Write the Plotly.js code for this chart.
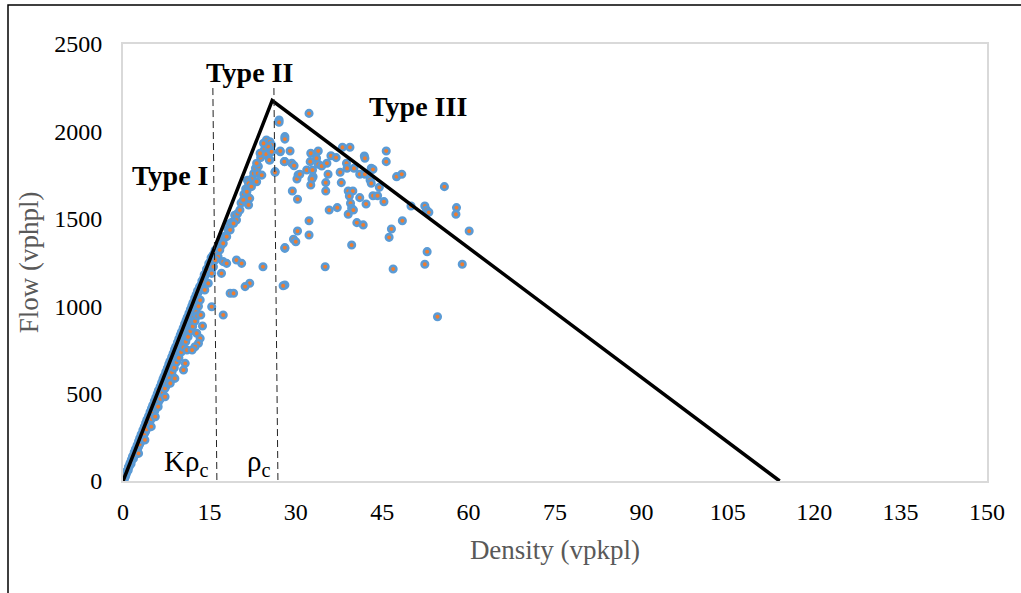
<!DOCTYPE html>
<html>
<head>
<meta charset="utf-8">
<script src="https://cdn.plot.ly/plotly-3.0.1.min.js"></script>
<style>
html,body{margin:0;padding:0;background:#fff;}
#chart{width:1021px;height:593px;}
</style>
</head>
<body>
<div id="chart"></div>
<script>
// Observed density (vpkpl) and flow (vphpl)
const densityObs = [
  0.0,0.1,0.2,0.3,0.5,0.6,0.8,1.0,1.1,1.3,1.5,1.7,1.9,2.0,2.2,2.4,2.6,2.8,3.0,3.2,3.4,3.6,3.8,4.0,4.2,4.4,4.6,4.8,5.0,5.2,5.4,5.6,5.8,6.0,6.2,6.4,6.6,6.8,7.0,7.2,7.4,7.6,7.8,8.0,8.2,8.4,8.6,8.8,9.0,9.2,9.4,9.6,9.8,10.0,10.2,10.4,10.6,10.8,11.0,11.2,11.4,11.6,11.8,12.0,12.2,12.4,12.6,12.8,13.0,13.2,13.4,13.6,13.8,14.0,14.2,14.4,14.6,14.8,15.0,15.2,15.4,15.6,15.8,16.0,
  0.4,0.9,1.4,1.8,2.3,2.7,3.1,3.5,3.9,4.3,4.7,5.1,5.5,5.9,6.3,6.7,7.1,7.5,7.9,8.3,8.7,9.1,9.5,9.9,10.3,10.7,11.1,11.5,11.9,12.3,12.7,13.1,
  0.15,0.45,0.7,0.95,1.2,1.45,1.65,1.95,2.15,2.45,2.7,2.9,3.15,3.45,3.7,3.95,4.15,4.45,4.7,4.95,5.15,5.45,5.7,5.95,6.15,6.45,6.7,6.95,7.15,7.45,7.7,7.95,8.15,8.45,8.7,8.95,9.15,9.45,9.7,9.95,10.15,10.45,10.7,10.95,11.15,11.45,11.7,11.95,12.15,12.45,12.7,12.95,13.3,13.7,14.1,14.5,14.9,15.3,
  2.1,2.5,2.9,3.3,3.7,4.1,4.5,4.9,5.3,5.7,6.1,6.5,6.9,7.3,7.7,8.1,8.5,8.9,9.3,9.7,10.1,10.5,10.9,11.3,11.7,12.1,12.5,12.9,
  16.2,16.6,17.0,17.3,17.7,18.2,18.5,18.9,19.4,19.9,20.5,21.0,21.3,21.9,22.4,22.7,23.0,23.5,23.9,24.2,24.6,25.0,24.8,23.4,21.6,
  15.4,17.4,13.5,13.8,12.8,13.4,13.1,12.5,11.1,12.0,10.8,10.5,9.0,8.2,7.3,6.1,5.6,4.9,3.8,2.7,
  27.0,24.9,25.5,25.8,25.2,24.4,23.8,25.8,27.3,28.1,25.5,28.1,26.4,23.2,24.1,23.2,21.8,22.3,21.5,22.0,21.8,20.9,20.3,19.7,19.2,18.6,18.0,17.4,16.8,16.5,16.0,15.7,15.4,14.8,14.2,13.4,
  17.4,18.0,17.1,19.7,20.6,24.3,28.1,22.0,21.2,18.6,19.2,28.1,
  32.3,27.1,27.1,28.1,29.0,27.3,28.0,25.4,29.3,29.7,26.4,
  32.6,33.9,33.6,32.5,33.9,34.5,35.4,36.1,37.0,38.1,39.4,
  31.9,32.9,33.0,32.8,30.4,30.2,30.7,32.6,35.6,35.2,35.2,29.4,30.3,
  37.7,37.9,38.8,38.9,40.1,39.1,39.9,39.3,41.1,42.0,42.9,43.1,41.9,42.0,43.1,43.4,41.1,42.2,
  39.5,39.7,40.0,39.1,40.6,41.7,37.2,35.8,43.4,44.2,44.5,45.3,45.7,45.7,47.5,48.4,
  50.0,52.4,52.7,53.1,55.8,57.9,57.8,60.1,48.5,46.6,46.2,52.8,52.4,58.9,46.9,54.6,
  32.3,32.3,30.3,29.6,30.0,28.1,35.1,39.7,27.8
];
const flowObs = [
  0,3,10,20,35,45,60,80,85,105,118,135,150,162,175,192,205,228,240,262,270,290,305,330,340,360,372,395,410,420,445,455,478,490,512,520,545,556,580,590,612,625,645,660,676,690,712,725,748,760,778,795,812,826,845,860,878,890,912,925,945,960,978,992,1010,1025,1042,1058,1075,1090,1110,1125,1142,1160,1172,1190,1205,1225,1240,1258,1270,1290,1300,1320,
  25,62,98,128,165,196,225,255,282,318,345,378,400,438,462,498,528,545,590,612,648,676,705,745,770,805,840,870,905,935,968,1000,
  12,38,58,80,100,122,140,165,182,205,226,245,266,290,310,332,350,372,395,415,432,458,478,500,518,540,562,584,600,625,645,668,685,708,730,752,768,792,814,836,852,876,898,918,935,960,982,1002,1020,1045,1066,1088,1112,1145,1180,1212,1245,1278,
  150,178,210,238,270,296,330,355,390,415,448,470,505,530,560,588,622,648,680,705,738,765,798,825,858,885,915,945,
  1300,1330,1345,1385,1400,1440,1470,1480,1520,1530,1590,1640,1670,1690,1730,1760,1790,1800,1850,1880,1900,1930,1870,1760,1720,
  997,950,950,887,845,816,788,768,749,749,673,635,587,559,482,425,368,311,235,158,
  2056,1951,1941,1922,1913,1932,1875,1884,1884,1970,1836,1827,1770,1818,1750,1712,1703,1684,1655,1617,1579,1608,1550,1493,1474,1436,1398,1360,1322,1283,1264,1226,1188,1131,1093,1035,
  1255,1245,1188,1264,1245,1226,1331,1131,1112,1074,1074,1121,
  2103,2065,2052,1956,1888,1888,1827,1836,1818,1804,1766,
  1875,1888,1846,1827,1812,1802,1818,1861,1850,1909,1909,
  1779,1779,1741,1728,1751,1728,1755,1693,1755,1707,1659,1659,1612,
  1766,1707,1818,1789,1789,1659,1659,1630,1755,1755,1722,1703,1859,1846,1789,1783,1621,1585,
  1589,1560,1550,1526,1478,1465,1564,1550,1632,1632,1680,1598,1888,1827,1741,1755,
  1573,1573,1550,1537,1684,1564,1526,1430,1489,1442,1394,1312,1240,1240,1213,940,
  1489,1407,1430,1383,1369,1335,1226,1350,1117
];
// Triangular fundamental diagram
const fdDensity = [0, 25.9, 114.0];
const fdFlow = [0, 2176, 0];
// Dashed guide lines (K*rho_c and rho_c)
const kRhoX = [15.6, 16.3];
const rhoCX = [26.2, 26.9];
const guideY = [2248, 0];
// Axis ticks
const xTicks = [0,15,30,45,60,75,90,105,120,135,150];
const yTicks = [0,500,1000,1500,2000,2500];

const serif = '"Liberation Serif","Times New Roman",serif';

const traces = [
  {
    x: densityObs, y: flowObs, type: 'scatter', mode: 'markers',
    marker: {size: 6.5, color: '#ED7D31', line: {color: '#5B9BD5', width: 2.6}},
    hoverinfo: 'x+y', showlegend: false
  },
  {
    x: fdDensity, y: fdFlow, type: 'scatter', mode: 'lines',
    line: {color: '#000000', width: 3.5}, showlegend: false
  },
  {
    x: kRhoX, y: guideY, type: 'scatter', mode: 'lines',
    line: {color: '#222222', width: 1, dash: '7px,4px'}, showlegend: false
  },
  {
    x: rhoCX, y: guideY, type: 'scatter', mode: 'lines',
    line: {color: '#222222', width: 1, dash: '7px,4px'}, showlegend: false
  }
];

const layout = {
  width: 1021, height: 593,
  margin: {l: 123, r: 34, t: 44, b: 112},
  paper_bgcolor: '#ffffff', plot_bgcolor: '#ffffff',
  font: {family: serif, color: '#000000', size: 24},
  showlegend: false,
  xaxis: {
    range: [0, 150], tickvals: xTicks, ticktext: xTicks.map(String),
    showgrid: false, zeroline: false,
    showline: true, linecolor: '#D9D9D9', linewidth: 2, mirror: true,
    ticks: '', ticklen: 0, ticklabelstandoff: 8,
    tickfont: {family: serif, size: 24, color: '#000'},
    title: {text: 'Density (vpkpl)', font: {family: serif, size: 27, color: '#595959'}, standoff: 16}
  },
  yaxis: {
    range: [0, 2500], tickvals: yTicks, ticktext: yTicks.map(String),
    showgrid: false, zeroline: false,
    showline: true, linecolor: '#D9D9D9', linewidth: 2, mirror: true,
    ticks: '', ticklen: 0, ticklabelstandoff: 14,
    tickfont: {family: serif, size: 24, color: '#000'},
    title: {text: 'Flow (vphpl)', font: {family: serif, size: 27, color: '#595959'}, standoff: 8}
  },
  annotations: [
    {x: 8.2, y: 1745, xref: 'x', yref: 'y', text: '<b>Type I</b>', showarrow: false,
     font: {family: serif, size: 28, color: '#000'}},
    {x: 21.9, y: 2335, xref: 'x', yref: 'y', text: '<b>Type II</b>', showarrow: false,
     font: {family: serif, size: 28, color: '#000'}},
    {x: 51.3, y: 2145, xref: 'x', yref: 'y', text: '<b>Type III</b>', showarrow: false,
     font: {family: serif, size: 28, color: '#000'}},
    {x: 11.0, y: 105, xref: 'x', yref: 'y', text: 'Kρ<sub>c</sub>', showarrow: false,
     font: {family: serif, size: 29, color: '#000'}},
    {x: 23.6, y: 105, xref: 'x', yref: 'y', text: 'ρ<sub>c</sub>', showarrow: false,
     font: {family: serif, size: 29, color: '#000'}}
  ],
  shapes: [
    {type: 'rect', xref: 'paper', yref: 'paper',
     x0: -0.1331, x1: 1.05, y0: -0.28, y1: 1.0892,
     line: {color: '#000000', width: 1.5}, fillcolor: 'rgba(0,0,0,0)', layer: 'above'}
  ]
};

Plotly.newPlot('chart', traces, layout, {displayModeBar: false, staticPlot: true});
</script>
</body>
</html>
